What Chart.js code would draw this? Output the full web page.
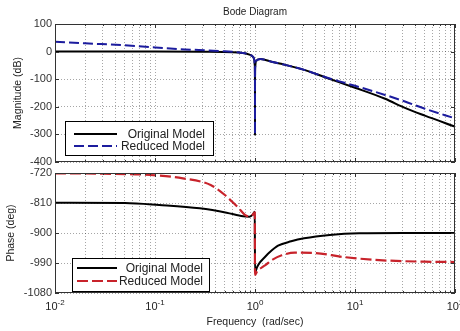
<!DOCTYPE html>
<html>
<head>
<meta charset="utf-8">
<script src="https://cdn.jsdelivr.net/npm/chart.js@4.4.1/dist/chart.umd.min.js"></script>
<style>
  html, body { margin: 0; padding: 0; background: #fff; }
  #wrap { position: relative; width: 460px; height: 331px; overflow: hidden; }
  canvas { position: absolute; left: 0; }
  #magChart { top: 0; }
  #phaseChart { top: 164px; }
</style>
</head>
<body>
<div id="wrap">
  <canvas id="magChart" width="460" height="170"></canvas>
  <canvas id="phaseChart" width="460" height="167"></canvas>
</div>
<script>
// frequency axis (rad/sec)
const decades = [0.01, 0.1, 1, 10, 100];
const decadeExp = ['-2', '-1', '0', '1', '2'];
const minorSteps = [2, 3, 4, 5, 6, 7, 8, 9];

// magnitude (dB)
const magRange = [-400, 100];
const magStep = 100;
const magOrigFreq = [0.01, 0.03, 0.1, 0.3, 0.6, 0.75, 0.88, 0.95, 0.985, 0.995, 0.9995, 1, 1.0005, 1.005, 1.02, 1.13, 1.5, 2, 3.16, 5, 10, 20, 31.6, 50, 100];
const magOrigDb = [0, 0, 0, -0.5, -2, -5, -11, -18, -30, -50, -110, -300, -110, -55, -35, -27, -38, -48, -67, -93, -131, -171, -204, -232, -272];
const magRedFreq = [0.01, 0.02, 0.05, 0.1, 0.2, 0.35, 0.5, 0.75, 0.88, 0.95, 0.985, 0.995, 0.9995, 1, 1.0005, 1.005, 1.02, 1.13, 1.5, 2, 3.16, 5, 7, 10, 20, 31.6, 50, 100];
const magRedDb = [36, 30, 23, 15, 8, 4, 1, -5, -11, -18, -30, -50, -110, -300, -110, -55, -35, -27, -38, -48, -67, -92, -108, -124, -157, -181, -207, -242];

// phase (deg)
const phaseRange = [-1080, -720];
const phaseStep = 90;
const phOrigFreq = [0.01, 0.05, 0.11, 0.28, 0.52, 0.76, 0.88, 0.95, 0.995, 1, 1.05, 1.12, 1.23, 1.4, 1.7, 2.3, 3.1, 5.6, 11, 30, 100];
const phOrigDeg = [-809, -810, -816, -826, -839, -850, -851, -845, -836, -1018, -1002, -988, -975, -958, -938, -925, -916, -906, -901, -900, -900];
const phRedFreq = [0.01, 0.03, 0.09, 0.19, 0.36, 0.5, 0.67, 0.85, 0.95, 0.995, 1, 1.05, 1.15, 1.3, 1.5, 1.85, 2.5, 4, 7.6, 19, 50, 100];
const phRedDeg = [-721, -722, -726, -736, -756, -786, -822, -850, -845, -838, -1026, -1015, -1005, -994, -980, -967, -959, -960, -972, -982, -986, -987];

const family = "'Liberation Sans', Arial, Helvetica, sans-serif";
const textColor = '#222';
const gridColor = 'rgba(0,0,0,0.35)';

const xTickValues = [];
decades.forEach((d, i) => {
    xTickValues.push(d);
    if (i < decades.length - 1) {
        minorSteps.forEach(m => xTickValues.push(+(d * m).toPrecision(3)));
    }
});

const toPoints = (fx, fy) => fx.map((f, i) => ({ x: f, y: fy[i] }));

// box, inner ticks, title, superscript tick labels and legend, MATLAB style
const decor = {
    id: 'decor',
    afterDraw(chart, args, opts) {
        const { ctx, chartArea: a, scales: { x, y } } = chart;
        ctx.save();
        ctx.strokeStyle = '#333';
        ctx.lineWidth = 1;
        ctx.beginPath();
        x.ticks.forEach(t => {
            const px = Math.round(x.getPixelForValue(t.value)) + 0.5;
            const len = decades.includes(t.value) ? 4 : 2;
            ctx.moveTo(px, a.bottom); ctx.lineTo(px, a.bottom - len);
            ctx.moveTo(px, a.top); ctx.lineTo(px, a.top + len);
        });
        y.ticks.forEach(t => {
            const py = Math.round(y.getPixelForValue(t.value)) + 0.5;
            ctx.moveTo(a.left, py); ctx.lineTo(a.left + 4, py);
            ctx.moveTo(a.right, py); ctx.lineTo(a.right - 4, py);
        });
        ctx.stroke();
        ctx.strokeRect(Math.round(a.left) + 0.5, Math.round(a.top) + 0.5,
                       Math.round(a.width) - 1, Math.round(a.height) - 1);

        ctx.fillStyle = textColor;
        if (opts.title) {
            ctx.font = '10px ' + family;
            ctx.textAlign = 'center';
            ctx.textBaseline = 'middle';
            ctx.fillText(opts.title, (a.left + a.right) / 2, opts.titleY);
        }

        if (opts.xLabels) {
            ctx.textAlign = 'left';
            ctx.textBaseline = 'middle';
            decades.forEach((d, i) => {
                const px = x.getPixelForValue(d);
                ctx.font = '11px ' + family;
                const w1 = ctx.measureText('10').width;
                ctx.font = '8px ' + family;
                const w2 = ctx.measureText(decadeExp[i]).width;
                const left = px - (w1 + w2) / 2;
                ctx.font = '11px ' + family;
                ctx.fillText('10', left, a.bottom + 14);
                ctx.font = '8px ' + family;
                ctx.fillText(decadeExp[i], left + w1, a.bottom + 9.5);
            });
        }

        const lg = opts.legend;
        if (lg) {
            const bx = Math.round(a.left + lg.dx), by = Math.round(a.bottom - lg.dy);
            ctx.fillStyle = '#fff';
            ctx.fillRect(bx, by, lg.w, lg.h);
            ctx.strokeStyle = '#000';
            ctx.lineWidth = 1;
            ctx.strokeRect(bx + 0.5, by + 0.5, lg.w, lg.h);
            ctx.font = '12px ' + family;
            ctx.textAlign = 'right';
            ctx.textBaseline = 'middle';
            chart.data.datasets.forEach((ds, i) => {
                const ry = by + lg.rows[i];
                ctx.save();
                ctx.strokeStyle = ds.borderColor;
                ctx.lineWidth = ds.borderWidth;
                ctx.setLineDash(ds.borderDash || []);
                ctx.beginPath();
                ctx.moveTo(bx + lg.lineX[0], ry);
                ctx.lineTo(bx + lg.lineX[1], ry);
                ctx.stroke();
                ctx.restore();
                ctx.fillStyle = textColor;
                ctx.fillText(ds.label, bx + lg.textX, ry + 0.5);
            });
        }
        ctx.restore();
    }
};

function bodeChart(id, o) {
    return new Chart(document.getElementById(id), {
        type: 'line',
        data: { datasets: o.datasets },
        options: {
            responsive: false,
            animation: false,
            events: [],
            layout: { padding: { top: o.padTop, right: 5, left: 0, bottom: 0 } },
            elements: {
                point: { radius: 0 },
                line: { cubicInterpolationMode: 'monotone', borderJoinStyle: 'round' }
            },
            scales: {
                x: {
                    type: 'logarithmic',
                    min: 0.01,
                    max: 100,
                    afterBuildTicks: s => { s.ticks = xTickValues.map(v => ({ value: v })); },
                    afterFit: s => { s.height = o.xHeight; s.paddingLeft = 0; s.paddingRight = 0; },
                    ticks: { display: false },
                    grid: { color: gridColor, lineWidth: 1, drawTicks: false },
                    border: { display: false, dash: [1, 2] },
                    title: {
                        display: !!o.xTitle,
                        text: o.xTitle || '',
                        color: textColor,
                        font: { size: 10.5, family },
                        padding: { top: 0, bottom: 3 }
                    }
                },
                y: {
                    min: o.range[0],
                    max: o.range[1],
                    afterFit: s => { s.width = 55; s.paddingTop = 0; s.paddingBottom = 0; },
                    ticks: {
                        stepSize: o.step,
                        padding: 3,
                        color: '#333',
                        font: { size: 11, family },
                        callback: v => String(v)
                    },
                    grid: { color: gridColor, lineWidth: 1, drawTicks: false },
                    border: { display: false, dash: [1, 2] },
                    title: {
                        display: true,
                        text: o.yTitle,
                        color: textColor,
                        font: { size: 10.5, family },
                        padding: { top: o.yTitlePad, bottom: 0 }
                    }
                }
            },
            plugins: {
                legend: { display: false },
                tooltip: { enabled: false },
                decor: o.decor
            }
        },
        plugins: [decor]
    });
}

bodeChart('magChart', {
    padTop: 24,
    xHeight: 8,
    range: magRange,
    step: magStep,
    yTitle: 'Magnitude (dB)',
    yTitlePad: 12,
    datasets: [
        { label: 'Original Model', data: toPoints(magOrigFreq, magOrigDb), borderColor: '#000', borderWidth: 2, order: 1 },
        { label: 'Reduced Model', data: toPoints(magRedFreq, magRedDb), borderColor: '#1c1c9e', borderWidth: 2, borderDash: [10, 4], order: 0 }
    ],
    decor: {
        title: 'Bode Diagram',
        titleY: 12,
        legend: { dx: 10, dy: 41, w: 148, h: 34, rows: [13, 25], lineX: [9, 52], textX: 140 }
    }
});

bodeChart('phaseChart', {
    padTop: 9,
    xHeight: 38,
    range: phaseRange,
    step: phaseStep,
    yTitle: 'Phase (deg)',
    yTitlePad: 5,
    xTitle: 'Frequency  (rad/sec)',
    datasets: [
        { label: 'Original Model', data: toPoints(phOrigFreq, phOrigDeg), borderColor: '#000', borderWidth: 2, order: 1 },
        { label: 'Reduced Model', data: toPoints(phRedFreq, phRedDeg), borderColor: '#c8232b', borderWidth: 2.2, borderDash: [11, 4], order: 0 }
    ],
    decor: {
        xLabels: true,
        legend: { dx: 17, dy: 35, w: 137, h: 33, rows: [10, 23], lineX: [5, 45], textX: 131 }
    }
});
</script>
</body>
</html>
